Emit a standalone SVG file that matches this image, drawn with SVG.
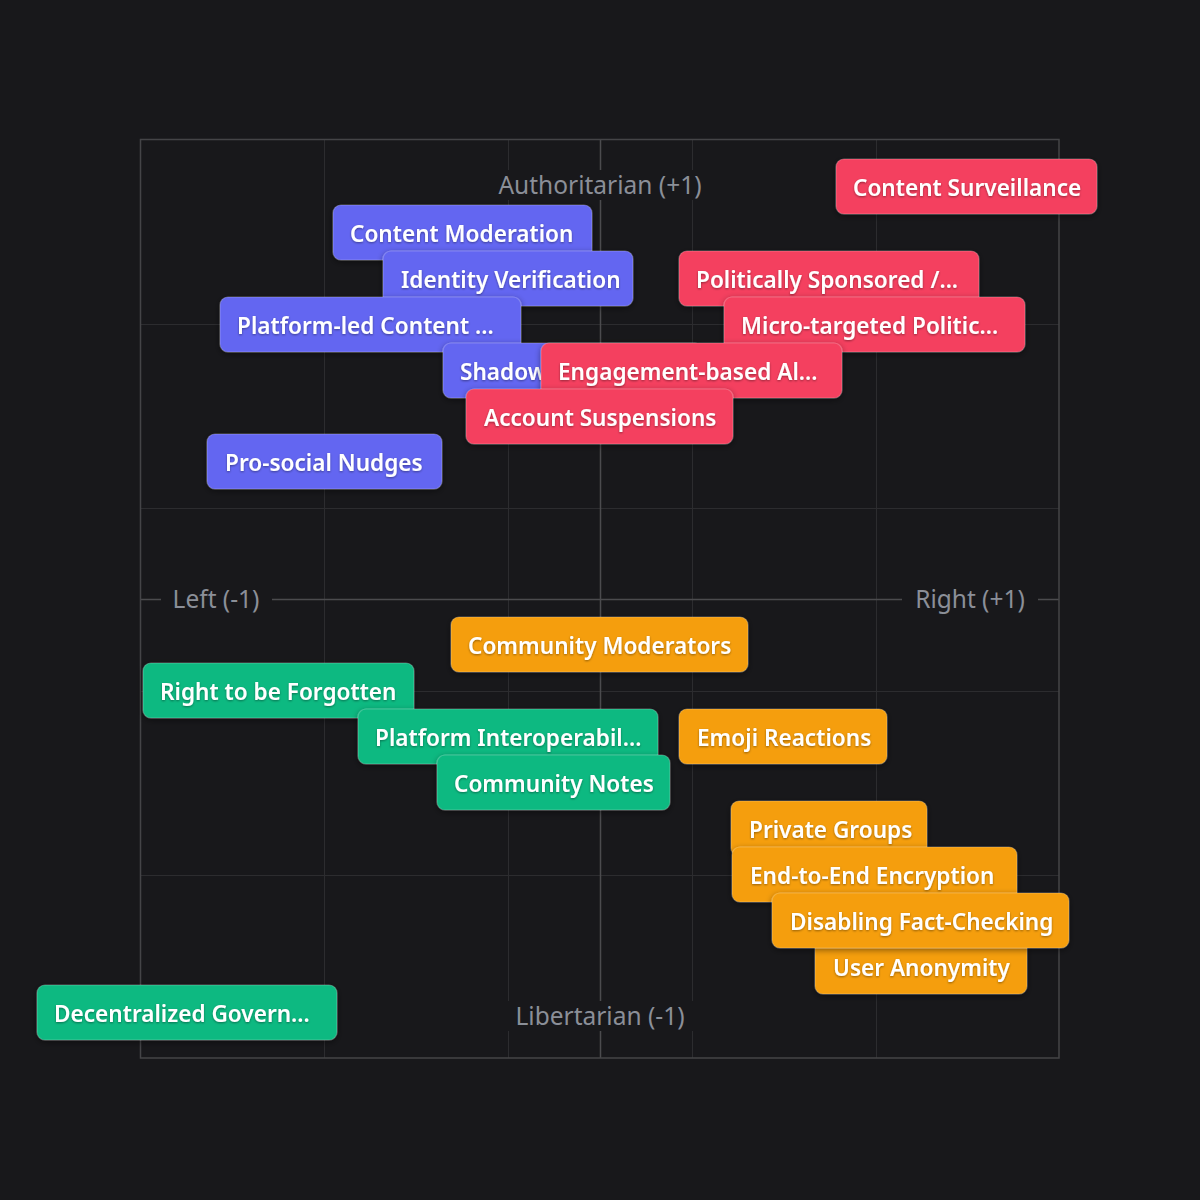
<svg xmlns="http://www.w3.org/2000/svg" width="1200" height="1200" viewBox="0 0 1200 1200">
<defs>
<style>
.grid{stroke:#2c2c2f;stroke-width:1;fill:none}
.axis{stroke:#4b4b4e;stroke-width:1.5;fill:none}
.frame{stroke:#444447;stroke-width:1.5;fill:none}
.albg{fill:#18181b}
.al{font-family:"Noto Sans","Open Sans",sans-serif;font-size:24.5px;fill:#8b8f98}
.n rect{rx:8;ry:8;stroke:rgba(255,255,255,0.22);stroke-width:1.2;filter:url(#bs)}
.n text{font-family:"Noto Sans","Open Sans",sans-serif;font-weight:600;font-size:22.6px;fill:#ffffff;filter:url(#ts)}
.blue rect{fill:#6366f1}
.red rect{fill:#f43f5e}
.orange rect{fill:#f59e0b}
.green rect{fill:#10b981}
</style>
<filter id="bs" x="-10%" y="-20%" width="120%" height="160%">
<feDropShadow dx="0" dy="2" stdDeviation="3" flood-color="#000" flood-opacity="0.45"/>
</filter>
<filter id="ts" x="-5%" y="-30%" width="110%" height="160%">
<feDropShadow dx="0" dy="1" stdDeviation="1" flood-color="#000" flood-opacity="0.4"/>
</filter>
</defs>
<rect width="1200" height="1200" fill="#18181b"/>
<g id="grid">
<line class="grid" x1="324.5" y1="140" x2="324.5" y2="1058"/>
<line class="grid" x1="508.5" y1="140" x2="508.5" y2="1058"/>
<line class="grid" x1="692.5" y1="140" x2="692.5" y2="1058"/>
<line class="grid" x1="876.5" y1="140" x2="876.5" y2="1058"/>
<line class="grid" x1="140" y1="324.5" x2="1059" y2="324.5"/>
<line class="grid" x1="140" y1="508.5" x2="1059" y2="508.5"/>
<line class="grid" x1="140" y1="691.5" x2="1059" y2="691.5"/>
<line class="grid" x1="140" y1="875.5" x2="1059" y2="875.5"/>
<line class="axis" x1="600.5" y1="140" x2="600.5" y2="1058"/>
<line class="axis" x1="140" y1="599.5" x2="1059" y2="599.5"/>
<rect class="frame" x="140.5" y="139.5" width="918.5" height="918.5"/>
</g>
<g id="axis-labels">
<rect class="albg" x="488" y="170" width="224" height="30"/>
<text class="al" x="600" y="194" text-anchor="middle">Authoritarian (+1)</text>
<rect class="albg" x="506" y="1001" width="188" height="30"/>
<text class="al" x="600" y="1025" text-anchor="middle">Libertarian (-1)</text>
<rect class="albg" x="161" y="585" width="111" height="30"/>
<text class="al" x="216" y="608" text-anchor="middle">Left (-1)</text>
<rect class="albg" x="902" y="585" width="136" height="30"/>
<text class="al" x="970" y="608" text-anchor="middle">Right (+1)</text>
</g>
<g id="connectors"></g>
<g id="node-content-surveillance" class="n red"><rect x="836" y="159" width="261" height="55"/><text x="853" y="196">Content Surveillance</text></g>
<g id="node-content-moderation" class="n blue"><rect x="333" y="205" width="259" height="55"/><text x="350" y="242">Content Moderation</text></g>
<g id="node-identity-verification" class="n blue"><rect x="383" y="251" width="250" height="55"/><text x="401" y="288">Identity Verification</text></g>
<g id="node-politically-sponsored" class="n red"><rect x="679" y="251" width="300" height="55"/><text x="696" y="288">Politically Sponsored /...</text></g>
<g id="node-platform-led" class="n blue"><rect x="220" y="297" width="301" height="55"/><text x="237" y="334">Platform-led Content ...</text></g>
<g id="node-micro-targeted" class="n red"><rect x="724" y="297" width="301" height="55"/><text x="741" y="334">Micro-targeted Politic...</text></g>
<g id="node-shadowbanning" class="n blue"><rect x="443" y="343" width="260" height="55"/><text x="460" y="380">Shadow</text></g>
<g id="node-engagement" class="n red"><rect x="541" y="343" width="301" height="55"/><text x="558" y="380">Engagement-based Al...</text></g>
<g id="node-account-suspensions" class="n red"><rect x="466" y="389" width="267" height="55"/><text x="484" y="426">Account Suspensions</text></g>
<g id="node-pro-social" class="n blue"><rect x="207" y="434" width="235" height="55"/><text x="225" y="471">Pro-social Nudges</text></g>
<g id="node-community-moderators" class="n orange"><rect x="451" y="617" width="297" height="55"/><text x="468" y="654">Community Moderators</text></g>
<g id="node-right-forgotten" class="n green"><rect x="143" y="663" width="271" height="55"/><text x="160" y="700">Right to be Forgotten</text></g>
<g id="node-platform-interop" class="n green"><rect x="358" y="709" width="300" height="55"/><text x="375" y="746">Platform Interoperabil...</text></g>
<g id="node-emoji" class="n orange"><rect x="679" y="709" width="208" height="55"/><text x="697" y="746">Emoji Reactions</text></g>
<g id="node-community-notes" class="n green"><rect x="437" y="755" width="233" height="55"/><text x="454" y="792">Community Notes</text></g>
<g id="node-private-groups" class="n orange"><rect x="731" y="801" width="196" height="55"/><text x="749" y="838">Private Groups</text></g>
<g id="node-e2e" class="n orange"><rect x="732" y="847" width="285" height="55"/><text x="750" y="884">End-to-End Encryption</text></g>
<g id="node-user-anonymity" class="n orange"><rect x="815" y="939" width="212" height="55"/><text x="833" y="976">User Anonymity</text></g>
<g id="node-disabling" class="n orange"><rect x="772" y="893" width="297" height="55"/><text x="790" y="930">Disabling Fact-Checking</text></g>
<g id="node-decentralized" class="n green"><rect x="37" y="985" width="300" height="55"/><text x="54" y="1022">Decentralized Govern...</text></g>
</svg>
